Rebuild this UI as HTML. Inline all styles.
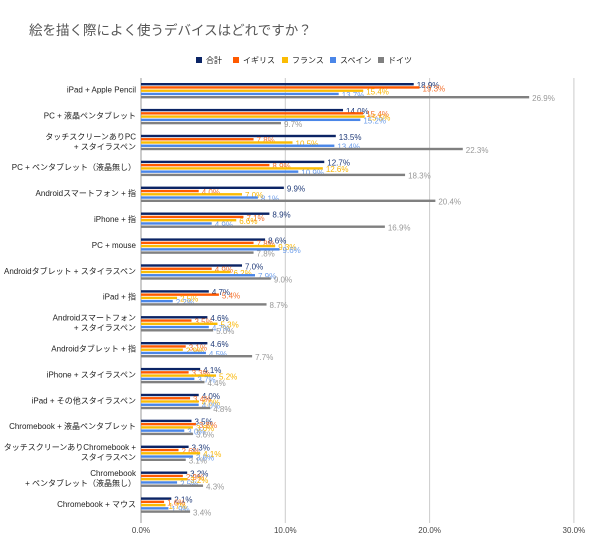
<!DOCTYPE html>
<html><head><meta charset="utf-8"><style>
body{margin:0;background:#fff;width:600px;height:549px;overflow:hidden;font-family:"Liberation Sans","Noto Sans CJK JP",sans-serif}
</style></head><body>
<svg id="chart" width="600" height="549" xmlns="http://www.w3.org/2000/svg" font-family="Liberation Sans, Noto Sans CJK JP, sans-serif">
<rect width="600" height="549" fill="#fff"/>
<text x="29" y="35" font-size="13.5" fill="#555">絵を描く際によく使うデバイスはどれですか？</text>
<g id="legend"></g>
<g id="grid"></g>
<g id="bars"></g>
<g id="cats"></g>
<g id="ticks"></g>
</svg>
<script>
const categories=[["iPad + Apple Pencil"],["PC + 液晶ペンタブレット"],["タッチスクリーンありPC","+ スタイラスペン"],["PC + ペンタブレット（液晶無し）"],["Androidスマートフォン + 指"],["iPhone +  指"],["PC + mouse"],["Androidタブレット + スタイラスペン"],["iPad + 指"],["Androidスマートフォン","+ スタイラスペン"],["Androidタブレット + 指"],["iPhone + スタイラスペン"],["iPad + その他スタイラスペン"],["Chromebook + 液晶ペンタブレット"],["タッチスクリーンありChromebook +","スタイラスペン"],["Chromebook","+ ペンタブレット（液晶無し）"],["Chromebook + マウス"]];
const seriesNames=["合計","イギリス","フランス","スペイン","ドイツ"];
const total=[18.9,14.0,13.5,12.7,9.9,8.9,8.6,7.0,4.7,4.6,4.6,4.1,4.0,3.5,3.3,3.2,2.1];
const uk=[19.3,15.4,7.8,8.9,4.0,7.1,7.8,4.9,5.4,3.5,3.1,3.3,3.4,3.8,2.6,2.9,1.6];
const france=[15.4,15.5,10.5,12.6,7.0,6.6,9.3,6.2,2.5,5.3,2.9,5.2,4.0,3.6,4.1,3.2,1.7];
const spain=[13.7,15.2,13.4,10.9,8.1,4.9,9.6,7.9,2.2,4.7,4.5,3.7,4.0,3.0,3.6,2.5,1.9];
const germany=[26.9,9.7,22.3,18.3,20.4,16.9,7.8,9.0,8.7,5.0,7.7,4.4,4.8,3.6,3.1,4.3,3.4];
const tickValues=[0,10,20,30];
const tickLabels=["0.0%","10.0%","20.0%","30.0%"];
const series=[total,uk,france,spain,germany];
const barColors=["#0b2465","#ff5a00","#fbbc04","#4a86e8","#808080"];
const textColors=["#1f3a78","#f4702c","#f9b500","#6d9eeb","#999999"];
const NS="http://www.w3.org/2000/svg";
const x0=141,pxPer=14.43,plotTop=78,pitch=25.9,plotBottom=523;
const xs=v=>x0+v*pxPer;
function mk(tag,attrs,parent,txt){const e=document.createElementNS(NS,tag);for(const k in attrs)e.setAttribute(k,attrs[k]);if(txt!==undefined)e.textContent=txt;parent.appendChild(e);return e;}
const grid=document.getElementById('grid'),bars=document.getElementById('bars'),cats=document.getElementById('cats'),ticks=document.getElementById('ticks'),legend=document.getElementById('legend');
tickValues.forEach((t,i)=>{
  const l=mk('line',{x1:xs(t),x2:xs(t),y1:plotTop,y2:plotBottom,stroke:i===0?'#999':'#ccc','stroke-width':1},grid);
  
  
  const tx=mk('text',{x:xs(t),y:533,'font-size':8,fill:'#444','text-anchor':'middle'},ticks,tickLabels[i]);
  
  
});
const legX=[196,233,282,330,378];
seriesNames.forEach((n,i)=>{
  const r=mk('rect',{x:legX[i],y:57,width:6,height:6,fill:barColors[i]},legend);
  
  
  const t=mk('text',{x:legX[i]+10,y:63,'font-size':8,fill:'#222'},legend,n);
  
  
});
categories.forEach((c,ci)=>{
  const gy=plotTop+ci*pitch;
  const cy=gy+11.5;
  c.forEach((line,li)=>{
    const t=mk('text',{x:136,y:cy+3+(li-(c.length-1)/2)*10,'font-size':8,fill:'#222','text-anchor':'end'},cats,line);
    
    
  });
  series.forEach((s,si)=>{
    const y=gy+5+si*3.25;
    const b=mk('rect',{x:x0,y:y,width:xs(s[ci])-x0,height:2.4,fill:barColors[si]},bars);
    
    
    const t=mk('text',{x:xs(s[ci])+3,y:y+5,'font-size':8,fill:textColors[si]},bars,s[ci].toFixed(1)+'%');
    
    
  });
});
</script>
</body></html>
